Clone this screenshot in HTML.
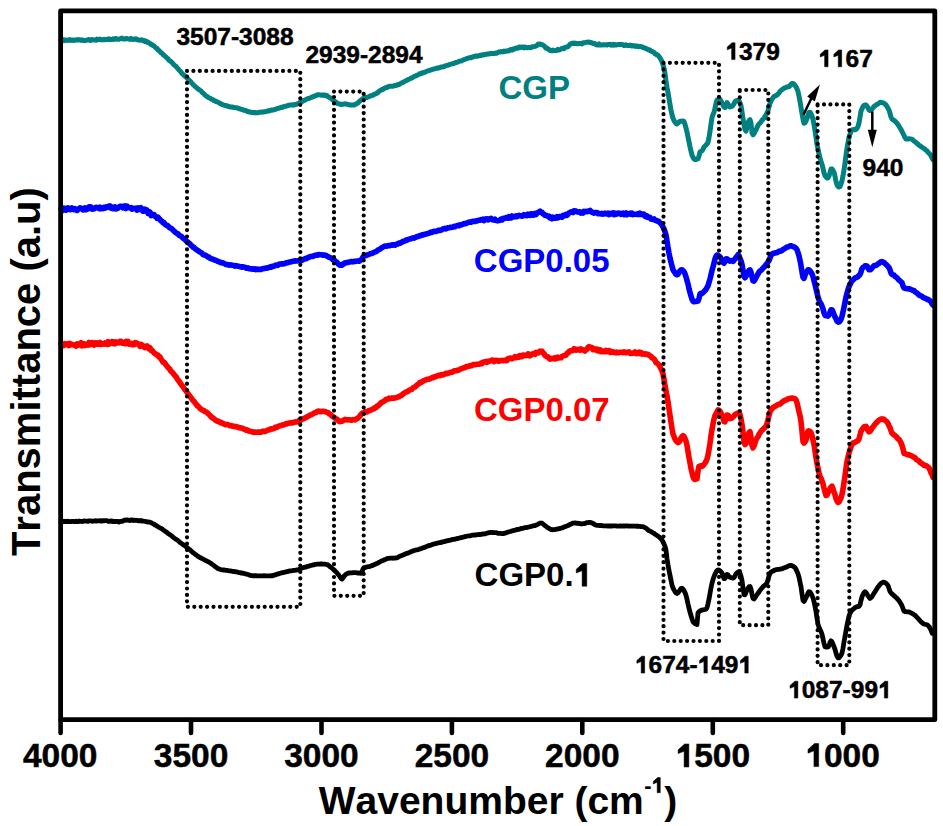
<!DOCTYPE html>
<html><head><meta charset="utf-8"><style>
html,body{margin:0;padding:0;background:#fff;}
body{width:943px;height:826px;overflow:hidden;}
svg{display:block;font-family:"Liberation Sans", sans-serif;font-weight:bold;}
text{stroke:currentColor;stroke-width:0.5;font-kerning:none;}
.nb{stroke-width:0;}
.h1{fill-opacity:0;stroke-opacity:0;}
polyline{fill:none;stroke-linejoin:round;stroke-linecap:round;}
.dot{fill:none;stroke:#000;stroke-width:4.2;stroke-dasharray:0 6.4;stroke-linecap:round;}
</style></head><body>
<svg width="943" height="826" viewBox="0 0 943 826">
<rect width="943" height="826" fill="#fff"/>
<polyline points="61.0,40.1 62.0,40.6 63.0,39.7 64.0,40.6 65.0,39.9 66.0,40.0 67.0,40.5 68.0,40.0 69.0,40.2 70.0,39.5 71.0,40.4 72.0,40.1 73.0,39.9 74.0,40.4 75.0,39.9 76.0,40.0 77.0,39.7 78.0,40.0 79.0,39.7 80.0,39.8 81.0,40.4 82.0,39.8 83.0,40.1 84.0,40.7 85.0,40.6 86.0,40.3 87.0,40.1 88.0,39.7 89.0,39.6 90.0,40.5 91.0,39.9 92.0,39.4 93.0,40.0 94.0,40.1 95.0,39.9 96.0,40.2 97.0,39.1 98.0,39.7 99.0,39.6 100.0,39.1 101.0,39.7 102.0,39.9 103.0,39.6 104.0,39.2 105.0,39.8 106.0,39.4 107.0,39.3 108.0,39.6 109.0,38.8 110.0,39.6 111.0,39.4 112.0,39.4 113.0,38.7 114.0,39.4 115.0,38.6 116.0,38.4 117.0,39.3 118.0,39.3 119.0,39.3 120.0,38.8 121.0,38.5 122.0,38.1 123.0,38.9 124.0,39.0 125.0,39.1 126.0,38.4 127.0,38.4 128.0,38.9 129.0,39.1 130.0,39.4 131.0,38.4 132.0,38.9 133.0,39.5 134.0,39.0 135.0,39.3 136.0,38.7 137.0,39.6 138.0,40.0 139.0,40.0 140.0,40.2 141.0,40.1 142.0,39.8 143.0,40.7 144.0,40.4 145.0,41.5 146.0,41.0 147.0,42.3 148.0,42.1 149.0,42.9 150.0,43.5 151.0,44.6 152.0,44.6 153.0,45.6 154.0,45.9 155.0,47.0 156.0,48.0 157.0,48.5 158.0,50.0 159.0,50.5 160.0,51.7 161.0,52.6 162.0,53.3 163.0,54.5 164.0,55.3 165.0,56.3 166.0,57.0 167.0,58.1 168.0,58.8 169.0,60.3 170.0,60.8 171.0,61.7 172.0,62.5 173.0,63.6 174.0,64.8 175.0,65.7 176.0,66.4 177.0,67.6 178.0,68.7 179.0,69.9 180.0,70.9 181.0,72.1 182.0,73.4 183.0,74.4 184.0,75.2 185.0,76.2 186.0,77.1 187.0,78.0 188.0,79.0 189.0,80.1 190.0,81.1 191.0,82.1 192.0,83.3 193.0,84.6 194.0,85.4 195.0,86.3 196.0,87.2 197.0,87.9 198.0,88.9 199.0,89.6 200.0,90.3 201.0,91.0 202.0,92.2 203.0,93.0 204.0,93.9 205.0,95.0 206.0,96.0 207.0,96.4 208.0,97.3 209.0,97.8 210.0,98.1 211.0,99.1 212.0,99.3 213.0,99.7 214.0,100.6 215.0,100.7 216.0,101.6 217.0,101.7 218.0,102.3 219.0,102.7 220.0,103.5 221.0,103.7 222.0,104.5 223.0,104.7 224.0,105.1 225.0,105.4 226.0,105.5 227.0,105.9 228.0,106.4 229.0,106.2 230.0,106.9 231.0,107.0 232.0,107.0 233.0,107.3 234.0,107.4 235.0,107.6 236.0,107.8 237.0,107.7 238.0,108.2 239.0,108.8 240.0,108.7 241.0,109.3 242.0,109.4 243.0,109.6 244.0,110.4 245.0,110.2 246.0,110.6 247.0,111.4 248.0,111.2 249.0,111.9 250.0,112.0 251.0,112.3 252.0,112.4 253.0,112.4 254.0,112.8 255.0,112.5 256.0,112.8 257.0,112.7 258.0,112.7 259.0,112.3 260.0,112.3 261.0,112.3 262.0,112.0 263.0,112.1 264.0,111.8 265.0,111.8 266.0,111.5 267.0,111.2 268.0,110.8 269.0,110.9 270.0,110.4 271.0,110.0 272.0,110.3 273.0,109.9 274.0,109.8 275.0,109.4 276.0,109.2 277.0,108.6 278.0,108.3 279.0,108.3 280.0,107.9 281.0,107.3 282.0,107.5 283.0,106.7 284.0,106.7 285.0,106.2 286.0,106.3 287.0,105.8 288.0,105.5 289.0,105.2 290.0,105.1 291.0,105.0 292.0,105.0 293.0,104.8 294.0,105.0 295.0,104.8 296.0,104.4 297.0,104.0 298.0,103.7 299.0,103.3 300.0,102.3 301.0,101.9 302.0,101.6 303.0,100.9 304.0,100.6 305.0,99.9 306.0,99.4 307.0,99.0 308.0,98.5 309.0,98.4 310.0,98.0 311.0,97.6 312.0,96.9 313.0,96.8 314.0,96.5 315.0,95.8 316.0,95.6 317.0,95.0 318.0,94.8 319.0,94.8 320.0,95.0 321.0,95.0 322.0,95.3 323.0,95.0 324.0,95.0 325.0,95.5 326.0,95.2 327.0,95.6 328.0,96.8 329.0,97.3 330.0,97.8 331.0,98.3 332.0,99.2 333.0,100.0 334.0,101.1 335.0,101.6 336.0,102.0 337.0,103.2 338.0,103.6 339.0,103.8 340.0,104.2 341.0,104.5 342.0,104.2 343.0,104.3 344.0,104.1 345.0,103.7 346.0,104.1 347.0,104.2 348.0,104.5 349.0,104.7 350.0,105.0 351.0,104.9 352.0,104.9 353.0,104.9 354.0,105.1 355.0,104.5 356.0,104.2 357.0,103.4 358.0,103.0 359.0,101.8 360.0,100.9 361.0,100.0 362.0,99.3 363.0,98.6 364.0,98.0 365.0,97.6 366.0,97.4 367.0,97.4 368.0,96.9 369.0,96.8 370.0,96.0 371.0,95.8 372.0,95.5 373.0,95.1 374.0,94.4 375.0,94.0 376.0,93.8 377.0,93.0 378.0,92.4 379.0,91.4 380.0,90.7 381.0,90.1 382.0,89.5 383.0,89.4 384.0,88.4 385.0,88.1 386.0,87.5 387.0,87.5 388.0,86.7 389.0,86.5 390.0,86.2 391.0,86.2 392.0,86.2 393.0,86.2 394.0,85.7 395.0,85.5 396.0,85.5 397.0,85.1 398.0,84.4 399.0,84.4 400.0,83.9 401.0,83.1 402.0,82.9 403.0,82.2 404.0,81.7 405.0,81.3 406.0,80.8 407.0,80.3 408.0,79.8 409.0,79.1 410.0,78.9 411.0,78.1 412.0,78.0 413.0,77.3 414.0,76.6 415.0,76.1 416.0,75.8 417.0,75.2 418.0,74.9 419.0,74.3 420.0,73.6 421.0,73.7 422.0,72.8 423.0,72.9 424.0,72.5 425.0,72.2 426.0,71.7 427.0,71.1 428.0,70.9 429.0,70.5 430.0,70.3 431.0,69.9 432.0,69.7 433.0,69.1 434.0,68.9 435.0,68.8 436.0,68.4 437.0,68.0 438.0,68.2 439.0,67.8 440.0,67.6 441.0,67.1 442.0,67.1 443.0,66.8 444.0,66.6 445.0,65.9 446.0,65.7 447.0,65.4 448.0,65.2 449.0,64.7 450.0,64.3 451.0,64.2 452.0,63.9 453.0,63.5 454.0,63.5 455.0,62.8 456.0,62.4 457.0,62.4 458.0,61.8 459.0,61.4 460.0,61.0 461.0,61.1 462.0,60.7 463.0,60.1 464.0,59.6 465.0,59.4 466.0,58.8 467.0,58.5 468.0,58.3 469.0,57.9 470.0,57.6 471.0,57.7 472.0,56.9 473.0,57.0 474.0,56.4 475.0,56.2 476.0,56.0 477.0,56.3 478.0,56.0 479.0,55.8 480.0,55.2 481.0,55.5 482.0,55.0 483.0,54.8 484.0,55.0 485.0,54.3 486.0,54.4 487.0,54.0 488.0,54.0 489.0,54.0 490.0,53.4 491.0,53.4 492.0,53.5 493.0,53.4 494.0,53.6 495.0,53.3 496.0,53.0 497.0,53.2 498.0,52.3 499.0,52.0 500.0,52.1 501.0,51.6 502.0,51.9 503.0,51.8 504.0,51.0 505.0,51.5 506.0,51.1 507.0,50.8 508.0,51.1 509.0,50.8 510.0,49.8 511.0,49.5 512.0,50.1 513.0,48.9 514.0,49.2 515.0,48.4 516.0,48.1 517.0,48.0 518.0,48.2 519.0,46.9 520.0,46.9 521.0,47.5 522.0,47.1 523.0,47.0 524.0,47.8 525.0,47.0 526.0,47.5 527.0,47.8 528.0,47.6 529.0,47.5 530.0,47.6 531.0,47.6 532.0,46.7 533.0,46.8 534.0,46.6 535.0,46.3 536.0,46.0 537.0,45.6 538.0,44.2 539.0,44.1 540.0,44.0 541.0,44.6 542.0,44.6 543.0,45.2 544.0,45.8 545.0,46.9 546.0,48.2 547.0,48.0 548.0,49.0 549.0,49.8 550.0,50.4 551.0,50.3 552.0,50.9 553.0,50.1 554.0,50.4 555.0,50.6 556.0,50.6 557.0,50.4 558.0,49.3 559.0,50.0 560.0,49.7 561.0,49.1 562.0,48.4 563.0,48.2 564.0,48.6 565.0,47.4 566.0,47.3 567.0,46.8 568.0,46.8 569.0,45.5 570.0,44.3 571.0,43.8 572.0,43.2 573.0,43.4 574.0,42.9 575.0,43.4 576.0,43.3 577.0,43.8 578.0,43.7 579.0,43.4 580.0,43.6 581.0,43.5 582.0,43.9 583.0,42.8 584.0,42.8 585.0,42.7 586.0,42.3 587.0,42.3 588.0,42.1 589.0,42.1 590.0,42.6 591.0,42.5 592.0,43.1 593.0,43.6 594.0,43.3 595.0,43.8 596.0,44.7 597.0,44.9 598.0,45.0 599.0,43.9 600.0,44.9 601.0,45.0 602.0,45.0 603.0,44.8 604.0,44.8 605.0,44.9 606.0,44.7 607.0,45.0 608.0,44.7 609.0,44.4 610.0,44.3 611.0,45.3 612.0,45.1 613.0,44.4 614.0,45.2 615.0,44.6 616.0,45.1 617.0,44.8 618.0,44.6 619.0,44.6 620.0,44.5 621.0,44.6 622.0,44.6 623.0,44.7 624.0,45.6 625.0,45.3 626.0,44.8 627.0,45.4 628.0,45.5 629.0,45.5 630.0,45.2 631.0,45.5 632.0,46.1 633.0,45.6 634.0,45.8 635.0,46.4 636.0,45.7 637.0,46.4 638.0,46.2 639.0,46.7 640.0,46.3 641.0,46.7 642.0,46.7 643.0,47.5 644.0,47.8 645.0,47.9 646.0,48.7 647.0,48.9 648.0,49.5 649.0,50.1 650.0,49.9 651.0,51.3 652.0,51.2 653.0,52.0 654.0,52.3 655.0,53.8 656.0,53.9 657.0,55.1 658.0,55.3 659.0,56.5 660.0,57.9 661.0,59.6 662.0,61.6 663.0,64.6 664.0,68.1 665.0,73.3 666.0,81.5 667.0,87.5 668.0,92.4 669.0,98.4 670.0,104.5 671.0,110.3 672.0,114.8 673.0,118.2 674.0,120.5 675.0,122.3 676.0,123.4 677.0,123.9 678.0,123.1 679.0,122.0 680.0,121.2 681.0,121.2 682.0,121.1 683.0,121.1 684.0,121.6 685.0,124.3 686.0,128.0 687.0,132.1 688.0,136.9 689.0,141.8 690.0,146.7 691.0,151.1 692.0,155.2 693.0,157.3 694.0,158.9 695.0,159.5 696.0,159.6 697.0,159.0 698.0,158.8 699.0,156.0 700.0,151.9 701.0,151.3 702.0,150.9 703.0,149.4 704.0,147.0 705.0,146.0 706.0,145.1 707.0,144.0 708.0,142.4 709.0,137.6 710.0,131.3 711.0,124.2 712.0,117.5 713.0,114.6 714.0,112.2 715.0,108.5 716.0,103.2 717.0,100.0 718.0,99.8 719.0,99.5 720.0,99.3 721.0,101.0 722.0,102.9 723.0,105.3 724.0,107.1 725.0,107.6 726.0,105.0 727.0,102.6 728.0,103.8 729.0,106.5 730.0,106.9 731.0,106.6 732.0,106.3 733.0,105.2 734.0,103.8 735.0,101.6 736.0,100.8 737.0,100.4 738.0,100.3 739.0,100.8 740.0,102.9 741.0,105.6 742.0,111.8 743.0,118.5 744.0,124.5 745.0,129.7 746.0,131.2 747.0,127.3 748.0,122.4 749.0,120.7 750.0,119.6 751.0,123.2 752.0,133.1 753.0,134.8 754.0,133.6 755.0,131.4 756.0,130.0 757.0,127.6 758.0,125.4 759.0,123.9 760.0,123.1 761.0,121.9 762.0,120.3 763.0,119.2 764.0,118.2 765.0,116.5 766.0,115.0 767.0,113.2 768.0,110.7 769.0,106.7 770.0,103.3 771.0,101.3 772.0,99.0 773.0,97.7 774.0,96.5 775.0,96.0 776.0,95.6 777.0,95.0 778.0,93.9 779.0,92.9 780.0,91.5 781.0,90.3 782.0,89.7 783.0,89.1 784.0,88.2 785.0,87.9 786.0,87.5 787.0,86.9 788.0,86.7 789.0,86.8 790.0,85.8 791.0,84.1 792.0,83.5 793.0,83.5 794.0,84.1 795.0,85.4 796.0,86.7 797.0,88.9 798.0,91.6 799.0,96.2 800.0,101.4 801.0,107.3 802.0,113.6 803.0,119.1 804.0,123.2 805.0,122.9 806.0,120.9 807.0,118.5 808.0,114.9 809.0,112.4 810.0,112.2 811.0,113.7 812.0,116.1 813.0,119.3 814.0,124.6 815.0,130.5 816.0,137.1 817.0,144.3 818.0,149.1 819.0,154.0 820.0,157.8 821.0,161.3 822.0,164.4 823.0,168.2 824.0,172.9 825.0,175.7 826.0,176.9 827.0,177.9 828.0,178.0 829.0,176.0 830.0,172.6 831.0,168.9 832.0,169.0 833.0,170.5 834.0,172.2 835.0,176.1 836.0,181.6 837.0,184.8 838.0,186.4 839.0,187.0 840.0,186.6 841.0,183.9 842.0,180.9 843.0,175.8 844.0,170.0 845.0,163.1 846.0,155.3 847.0,148.4 848.0,142.6 849.0,137.3 850.0,134.1 851.0,131.6 852.0,130.0 853.0,129.7 854.0,129.3 855.0,129.8 856.0,129.6 857.0,128.3 858.0,126.4 859.0,123.1 860.0,117.1 861.0,111.1 862.0,108.7 863.0,106.6 864.0,105.4 865.0,104.9 866.0,105.0 867.0,106.0 868.0,107.7 869.0,110.0 870.0,110.5 871.0,110.2 872.0,108.9 873.0,107.9 874.0,106.4 875.0,105.9 876.0,105.0 877.0,104.3 878.0,104.0 879.0,103.1 880.0,102.5 881.0,102.2 882.0,102.6 883.0,102.9 884.0,103.2 885.0,104.3 886.0,104.9 887.0,106.5 888.0,108.3 889.0,110.1 890.0,113.3 891.0,117.0 892.0,119.0 893.0,119.8 894.0,120.4 895.0,121.1 896.0,122.2 897.0,123.3 898.0,124.6 899.0,126.2 900.0,127.9 901.0,129.5 902.0,131.4 903.0,133.5 904.0,135.5 905.0,137.6 906.0,138.9 907.0,139.0 908.0,139.0 909.0,138.7 910.0,138.9 911.0,139.1 912.0,139.2 913.0,140.0 914.0,141.1 915.0,141.7 916.0,142.5 917.0,143.4 918.0,144.1 919.0,145.2 920.0,145.7 921.0,146.6 922.0,147.2 923.0,147.9 924.0,148.4 925.0,149.3 926.0,150.2 927.0,150.9 928.0,152.2 929.0,153.3 930.0,154.3 931.0,155.7 932.0,158.0 933.0,159.8" stroke="#008080" stroke-width="5" />
<polyline points="61.0,208.7 62.0,208.8 63.0,210.4 64.0,208.1 65.0,209.7 66.0,210.1 67.0,208.3 68.0,207.8 69.0,208.5 70.0,209.7 71.0,209.4 72.0,208.0 73.0,208.9 74.0,209.6 75.0,208.7 76.0,209.4 77.0,210.4 78.0,209.4 79.0,208.5 80.0,207.8 81.0,208.2 82.0,208.7 83.0,209.9 84.0,209.4 85.0,207.9 86.0,209.7 87.0,208.2 88.0,208.9 89.0,206.9 90.0,206.8 91.0,207.0 92.0,209.1 93.0,208.4 94.0,208.9 95.0,208.1 96.0,207.3 97.0,207.6 98.0,207.8 99.0,208.6 100.0,207.2 101.0,208.7 102.0,207.8 103.0,208.5 104.0,207.4 105.0,208.0 106.0,206.9 107.0,207.5 108.0,206.5 109.0,206.1 110.0,205.9 111.0,208.0 112.0,207.3 113.0,208.7 114.0,208.5 115.0,207.0 116.0,208.9 117.0,207.7 118.0,208.3 119.0,207.1 120.0,206.4 121.0,206.3 122.0,206.4 123.0,207.7 124.0,206.2 125.0,205.9 126.0,208.5 127.0,206.1 128.0,207.3 129.0,207.5 130.0,208.0 131.0,207.7 132.0,209.2 133.0,208.7 134.0,208.3 135.0,208.5 136.0,208.3 137.0,210.0 138.0,207.8 139.0,209.4 140.0,209.2 141.0,207.8 142.0,208.9 143.0,211.3 144.0,211.2 145.0,209.2 146.0,210.6 147.0,210.2 148.0,213.4 149.0,211.7 150.0,212.1 151.0,215.6 152.0,214.4 153.0,214.7 154.0,214.5 155.0,216.3 156.0,216.9 157.0,218.2 158.0,217.2 159.0,218.4 160.0,219.4 161.0,220.9 162.0,221.2 163.0,222.9 164.0,222.6 165.0,224.3 166.0,225.1 167.0,225.2 168.0,226.0 169.0,227.1 170.0,228.0 171.0,228.2 172.0,229.1 173.0,230.1 174.0,231.0 175.0,232.0 176.0,232.8 177.0,233.5 178.0,233.7 179.0,235.3 180.0,235.8 181.0,236.1 182.0,237.1 183.0,238.2 184.0,238.8 185.0,239.6 186.0,240.7 187.0,241.6 188.0,242.2 189.0,243.3 190.0,243.9 191.0,245.3 192.0,245.9 193.0,247.1 194.0,247.2 195.0,248.7 196.0,249.2 197.0,250.1 198.0,250.5 199.0,251.6 200.0,252.1 201.0,252.6 202.0,253.2 203.0,254.6 204.0,255.0 205.0,255.1 206.0,255.6 207.0,256.3 208.0,257.1 209.0,257.1 210.0,258.3 211.0,258.8 212.0,258.7 213.0,259.4 214.0,259.6 215.0,260.3 216.0,260.2 217.0,260.9 218.0,261.4 219.0,261.8 220.0,262.2 221.0,262.7 222.0,262.6 223.0,262.9 224.0,263.5 225.0,263.9 226.0,264.5 227.0,264.5 228.0,264.8 229.0,265.2 230.0,264.8 231.0,265.0 232.0,265.3 233.0,265.3 234.0,265.7 235.0,266.1 236.0,265.6 237.0,266.0 238.0,266.3 239.0,266.3 240.0,266.8 241.0,266.9 242.0,267.2 243.0,266.8 244.0,267.1 245.0,267.2 246.0,268.0 247.0,268.3 248.0,267.8 249.0,268.6 250.0,268.7 251.0,269.0 252.0,268.7 253.0,269.2 254.0,268.9 255.0,268.9 256.0,269.6 257.0,269.0 258.0,269.5 259.0,269.2 260.0,269.2 261.0,269.4 262.0,268.7 263.0,268.8 264.0,268.5 265.0,268.2 266.0,268.2 267.0,267.7 268.0,267.9 269.0,267.5 270.0,266.9 271.0,267.2 272.0,266.4 273.0,266.4 274.0,266.2 275.0,265.5 276.0,265.0 277.0,265.4 278.0,265.2 279.0,264.3 280.0,264.0 281.0,264.0 282.0,263.8 283.0,263.9 284.0,263.7 285.0,263.5 286.0,262.8 287.0,262.9 288.0,262.6 289.0,262.2 290.0,261.9 291.0,261.7 292.0,261.6 293.0,261.2 294.0,261.1 295.0,260.8 296.0,261.1 297.0,260.9 298.0,260.6 299.0,260.8 300.0,260.5 301.0,260.5 302.0,260.4 303.0,259.6 304.0,259.4 305.0,258.6 306.0,258.8 307.0,258.2 308.0,257.5 309.0,257.2 310.0,256.7 311.0,256.4 312.0,256.2 313.0,256.4 314.0,255.8 315.0,255.4 316.0,255.3 317.0,254.9 318.0,255.1 319.0,254.5 320.0,254.7 321.0,254.8 322.0,254.8 323.0,255.3 324.0,255.0 325.0,255.3 326.0,255.3 327.0,256.2 328.0,256.4 329.0,257.3 330.0,257.6 331.0,258.0 332.0,258.8 333.0,259.8 334.0,260.5 335.0,260.8 336.0,261.9 337.0,262.2 338.0,263.7 339.0,264.5 340.0,265.3 341.0,265.2 342.0,265.3 343.0,264.0 344.0,263.8 345.0,262.7 346.0,262.7 347.0,262.5 348.0,262.5 349.0,262.0 350.0,262.0 351.0,261.5 352.0,261.6 353.0,261.9 354.0,261.3 355.0,261.5 356.0,261.3 357.0,261.1 358.0,260.9 359.0,261.2 360.0,260.7 361.0,260.0 362.0,258.7 363.0,257.1 364.0,256.1 365.0,255.8 366.0,255.5 367.0,254.9 368.0,254.7 369.0,254.4 370.0,253.8 371.0,253.6 372.0,253.4 373.0,252.8 374.0,252.4 375.0,251.8 376.0,251.7 377.0,251.0 378.0,249.9 379.0,249.7 380.0,249.1 381.0,248.4 382.0,247.5 383.0,247.1 384.0,246.6 385.0,246.1 386.0,246.1 387.0,246.1 388.0,245.8 389.0,245.5 390.0,245.6 391.0,245.3 392.0,244.9 393.0,245.2 394.0,244.8 395.0,245.1 396.0,244.4 397.0,243.9 398.0,244.1 399.0,243.1 400.0,243.3 401.0,242.5 402.0,242.3 403.0,241.3 404.0,241.3 405.0,241.0 406.0,240.1 407.0,240.1 408.0,239.4 409.0,239.2 410.0,238.9 411.0,238.8 412.0,238.2 413.0,237.9 414.0,238.1 415.0,237.7 416.0,237.1 417.0,236.6 418.0,236.6 419.0,236.0 420.0,235.5 421.0,235.7 422.0,234.8 423.0,235.0 424.0,234.5 425.0,234.2 426.0,234.0 427.0,233.7 428.0,233.5 429.0,233.3 430.0,232.5 431.0,232.1 432.0,232.4 433.0,231.6 434.0,231.3 435.0,231.5 436.0,231.4 437.0,231.1 438.0,230.5 439.0,230.2 440.0,230.4 441.0,230.0 442.0,229.7 443.0,228.9 444.0,228.8 445.0,228.4 446.0,228.9 447.0,228.1 448.0,227.8 449.0,227.9 450.0,227.3 451.0,227.4 452.0,227.4 453.0,227.1 454.0,226.4 455.0,226.7 456.0,226.0 457.0,225.8 458.0,225.4 459.0,225.7 460.0,224.9 461.0,224.9 462.0,224.5 463.0,224.3 464.0,223.5 465.0,223.6 466.0,223.6 467.0,223.0 468.0,222.5 469.0,222.1 470.0,222.1 471.0,222.2 472.0,221.4 473.0,221.2 474.0,221.5 475.0,221.5 476.0,220.9 477.0,220.9 478.0,220.4 479.0,220.3 480.0,220.3 481.0,219.6 482.0,219.9 483.0,219.2 484.0,220.5 485.0,219.9 486.0,218.8 487.0,218.8 488.0,219.9 489.0,219.0 490.0,218.8 491.0,218.4 492.0,219.6 493.0,219.6 494.0,220.2 495.0,219.2 496.0,220.4 497.0,220.7 498.0,220.8 499.0,220.6 500.0,220.0 501.0,219.1 502.0,219.9 503.0,218.5 504.0,218.2 505.0,218.4 506.0,217.5 507.0,217.8 508.0,218.2 509.0,216.7 510.0,217.7 511.0,217.9 512.0,216.0 513.0,216.5 514.0,216.9 515.0,216.8 516.0,215.9 517.0,216.7 518.0,215.8 519.0,215.4 520.0,215.8 521.0,215.9 522.0,216.2 523.0,215.8 524.0,214.7 525.0,215.5 526.0,215.0 527.0,215.6 528.0,214.3 529.0,215.3 530.0,215.4 531.0,213.9 532.0,213.8 533.0,215.2 534.0,215.0 535.0,213.5 536.0,214.5 537.0,213.1 538.0,212.6 539.0,211.9 540.0,211.2 541.0,212.3 542.0,212.4 543.0,213.8 544.0,214.2 545.0,215.4 546.0,215.2 547.0,215.8 548.0,216.5 549.0,216.1 550.0,217.9 551.0,217.1 552.0,218.7 553.0,217.1 554.0,218.2 555.0,218.2 556.0,217.7 557.0,216.7 558.0,217.9 559.0,216.8 560.0,216.6 561.0,217.1 562.0,217.3 563.0,215.3 564.0,215.6 565.0,215.6 566.0,214.5 567.0,215.3 568.0,214.3 569.0,212.9 570.0,212.5 571.0,211.9 572.0,212.0 573.0,212.5 574.0,210.8 575.0,210.9 576.0,211.1 577.0,211.9 578.0,211.9 579.0,212.1 580.0,211.8 581.0,213.1 582.0,212.6 583.0,213.1 584.0,211.4 585.0,211.7 586.0,211.2 587.0,211.7 588.0,211.2 589.0,210.9 590.0,210.3 591.0,211.5 592.0,212.3 593.0,212.4 594.0,213.1 595.0,212.8 596.0,212.5 597.0,212.5 598.0,213.7 599.0,213.8 600.0,213.5 601.0,213.9 602.0,213.4 603.0,214.1 604.0,213.9 605.0,213.2 606.0,213.8 607.0,214.0 608.0,213.2 609.0,214.6 610.0,214.3 611.0,213.2 612.0,213.3 613.0,212.9 614.0,214.6 615.0,213.2 616.0,214.4 617.0,213.8 618.0,213.0 619.0,213.3 620.0,213.4 621.0,214.3 622.0,213.6 623.0,213.2 624.0,214.6 625.0,213.8 626.0,213.0 627.0,214.7 628.0,214.1 629.0,213.7 630.0,213.2 631.0,214.1 632.0,213.1 633.0,214.6 634.0,214.3 635.0,214.2 636.0,214.3 637.0,214.5 638.0,213.7 639.0,214.4 640.0,213.1 641.0,214.3 642.0,214.6 643.0,214.0 644.0,214.3 645.0,216.3 646.0,216.8 647.0,215.9 648.0,217.3 649.0,217.0 650.0,217.4 651.0,219.1 652.0,219.0 653.0,219.5 654.0,219.0 655.0,220.3 656.0,220.6 657.0,220.5 658.0,221.4 659.0,221.6 660.0,222.9 661.0,223.6 662.0,225.1 663.0,227.0 664.0,228.9 665.0,231.7 666.0,235.0 667.0,241.2 668.0,247.5 669.0,253.2 670.0,258.0 671.0,262.3 672.0,265.9 673.0,269.8 674.0,271.4 675.0,272.7 676.0,274.4 677.0,274.7 678.0,274.4 679.0,272.3 680.0,270.8 681.0,269.9 682.0,269.7 683.0,270.8 684.0,271.7 685.0,273.8 686.0,276.8 687.0,280.6 688.0,284.0 689.0,288.8 690.0,292.4 691.0,295.9 692.0,299.2 693.0,301.2 694.0,301.8 695.0,301.5 696.0,301.5 697.0,301.3 698.0,301.1 699.0,298.4 700.0,294.0 701.0,293.2 702.0,293.4 703.0,292.7 704.0,291.6 705.0,290.6 706.0,289.4 707.0,287.4 708.0,285.8 709.0,282.4 710.0,278.9 711.0,275.0 712.0,270.4 713.0,266.9 714.0,263.3 715.0,259.0 716.0,256.3 717.0,255.1 718.0,255.3 719.0,256.0 720.0,256.9 721.0,258.4 722.0,260.1 723.0,262.5 724.0,263.2 725.0,260.8 726.0,258.8 727.0,258.8 728.0,259.7 729.0,260.8 730.0,261.1 731.0,260.8 732.0,260.6 733.0,261.4 734.0,260.2 735.0,258.9 736.0,257.5 737.0,256.2 738.0,254.8 739.0,255.8 740.0,258.5 741.0,260.8 742.0,264.5 743.0,270.5 744.0,276.1 745.0,277.7 746.0,276.4 747.0,274.0 748.0,272.1 749.0,270.3 750.0,269.9 751.0,272.4 752.0,276.8 753.0,280.7 754.0,281.1 755.0,279.5 756.0,277.6 757.0,275.7 758.0,274.0 759.0,272.1 760.0,271.0 761.0,270.4 762.0,269.3 763.0,268.1 764.0,267.0 765.0,266.4 766.0,264.5 767.0,263.6 768.0,261.9 769.0,260.5 770.0,257.9 771.0,255.4 772.0,254.0 773.0,253.5 774.0,253.2 775.0,252.9 776.0,252.7 777.0,252.6 778.0,252.1 779.0,251.3 780.0,251.1 781.0,251.0 782.0,250.5 783.0,249.5 784.0,248.9 785.0,248.4 786.0,247.6 787.0,247.1 788.0,247.0 789.0,246.5 790.0,245.8 791.0,245.8 792.0,246.1 793.0,246.5 794.0,246.9 795.0,247.6 796.0,248.3 797.0,249.6 798.0,252.6 799.0,255.9 800.0,260.3 801.0,265.6 802.0,271.9 803.0,277.2 804.0,278.4 805.0,275.3 806.0,272.8 807.0,271.3 808.0,269.9 809.0,269.9 810.0,270.8 811.0,272.3 812.0,273.9 813.0,276.6 814.0,280.5 815.0,284.3 816.0,288.6 817.0,292.9 818.0,297.1 819.0,300.0 820.0,302.5 821.0,303.7 822.0,306.3 823.0,308.9 824.0,312.8 825.0,315.3 826.0,315.7 827.0,315.7 828.0,316.1 829.0,314.8 830.0,312.2 831.0,309.9 832.0,309.8 833.0,311.8 834.0,314.5 835.0,317.0 836.0,318.7 837.0,321.1 838.0,322.1 839.0,322.0 840.0,320.9 841.0,319.3 842.0,316.4 843.0,312.2 844.0,307.2 845.0,301.9 846.0,297.1 847.0,293.2 848.0,289.7 849.0,286.7 850.0,284.6 851.0,282.5 852.0,280.7 853.0,280.1 854.0,279.1 855.0,278.1 856.0,277.6 857.0,277.3 858.0,276.5 859.0,275.5 860.0,274.5 861.0,271.9 862.0,268.7 863.0,267.4 864.0,266.9 865.0,265.8 866.0,265.9 867.0,266.0 868.0,267.7 869.0,269.8 870.0,269.8 871.0,269.4 872.0,268.0 873.0,266.8 874.0,265.8 875.0,265.5 876.0,265.4 877.0,264.8 878.0,263.8 879.0,263.4 880.0,262.3 881.0,261.7 882.0,261.6 883.0,262.2 884.0,262.5 885.0,263.5 886.0,264.4 887.0,265.3 888.0,266.5 889.0,267.6 890.0,269.9 891.0,273.0 892.0,274.4 893.0,274.8 894.0,275.2 895.0,276.5 896.0,277.0 897.0,277.7 898.0,278.9 899.0,280.2 900.0,280.8 901.0,281.9 902.0,282.7 903.0,286.0 904.0,287.9 905.0,288.3 906.0,288.5 907.0,288.6 908.0,288.9 909.0,288.7 910.0,289.1 911.0,289.5 912.0,290.0 913.0,290.5 914.0,290.6 915.0,291.8 916.0,292.4 917.0,292.9 918.0,293.9 919.0,295.0 920.0,295.6 921.0,295.9 922.0,296.3 923.0,297.5 924.0,297.8 925.0,298.3 926.0,298.5 927.0,299.4 928.0,299.3 929.0,300.2 930.0,300.7 931.0,301.8 932.0,303.8 933.0,305.1" stroke="#0000ff" stroke-width="5.6" />
<polyline points="61.0,343.7 62.0,344.1 63.0,345.9 64.0,345.2 65.0,343.6 66.0,344.7 67.0,344.8 68.0,343.7 69.0,345.6 70.0,343.5 71.0,344.4 72.0,344.8 73.0,344.5 74.0,344.9 75.0,345.4 76.0,346.0 77.0,343.9 78.0,345.0 79.0,345.1 80.0,343.8 81.0,342.8 82.0,345.9 83.0,343.7 84.0,343.7 85.0,345.5 86.0,344.5 87.0,344.0 88.0,345.0 89.0,342.5 90.0,344.6 91.0,343.5 92.0,342.6 93.0,344.3 94.0,345.1 95.0,342.8 96.0,344.1 97.0,342.9 98.0,344.3 99.0,344.2 100.0,342.5 101.0,344.4 102.0,343.8 103.0,343.9 104.0,344.2 105.0,342.9 106.0,343.9 107.0,344.3 108.0,341.7 109.0,344.1 110.0,342.5 111.0,342.8 112.0,341.6 113.0,343.4 114.0,342.0 115.0,343.8 116.0,341.8 117.0,342.7 118.0,342.2 119.0,342.8 120.0,341.4 121.0,341.3 122.0,343.1 123.0,343.1 124.0,342.5 125.0,343.6 126.0,341.4 127.0,343.5 128.0,341.4 129.0,344.1 130.0,343.2 131.0,343.3 132.0,344.7 133.0,344.4 134.0,344.7 135.0,342.6 136.0,343.9 137.0,343.2 138.0,343.9 139.0,344.2 140.0,346.4 141.0,344.3 142.0,345.0 143.0,345.8 144.0,347.1 145.0,347.7 146.0,347.2 147.0,346.0 148.0,347.6 149.0,348.9 150.0,347.6 151.0,350.4 152.0,350.2 153.0,351.7 154.0,352.8 155.0,353.7 156.0,354.1 157.0,355.2 158.0,355.0 159.0,357.0 160.0,356.9 161.0,359.1 162.0,360.4 163.0,362.3 164.0,362.2 165.0,363.3 166.0,364.9 167.0,365.9 168.0,367.5 169.0,368.4 170.0,369.6 171.0,371.3 172.0,372.0 173.0,373.2 174.0,374.4 175.0,375.7 176.0,376.7 177.0,378.4 178.0,380.0 179.0,381.1 180.0,382.6 181.0,384.2 182.0,385.5 183.0,386.8 184.0,388.3 185.0,389.8 186.0,390.7 187.0,392.3 188.0,393.6 189.0,394.9 190.0,396.5 191.0,397.6 192.0,399.2 193.0,400.4 194.0,401.3 195.0,402.8 196.0,403.9 197.0,405.4 198.0,406.1 199.0,407.2 200.0,408.4 201.0,409.1 202.0,409.9 203.0,410.2 204.0,410.6 205.0,411.8 206.0,411.8 207.0,412.5 208.0,413.5 209.0,414.5 210.0,415.4 211.0,416.6 212.0,417.8 213.0,417.9 214.0,418.8 215.0,419.7 216.0,420.5 217.0,421.1 218.0,421.0 219.0,421.8 220.0,422.5 221.0,422.3 222.0,423.2 223.0,423.3 224.0,424.1 225.0,424.6 226.0,424.6 227.0,424.4 228.0,424.7 229.0,425.2 230.0,425.8 231.0,425.5 232.0,426.1 233.0,426.1 234.0,426.2 235.0,426.7 236.0,426.6 237.0,426.8 238.0,427.4 239.0,427.4 240.0,427.9 241.0,428.0 242.0,428.1 243.0,428.6 244.0,429.3 245.0,429.4 246.0,430.1 247.0,429.7 248.0,430.4 249.0,431.1 250.0,431.3 251.0,431.5 252.0,431.7 253.0,432.1 254.0,432.1 255.0,432.1 256.0,432.2 257.0,432.3 258.0,432.0 259.0,432.3 260.0,432.1 261.0,432.1 262.0,431.7 263.0,431.1 264.0,431.4 265.0,431.4 266.0,430.9 267.0,430.6 268.0,430.0 269.0,429.6 270.0,429.6 271.0,428.7 272.0,429.0 273.0,428.7 274.0,428.4 275.0,427.4 276.0,427.0 277.0,427.3 278.0,426.6 279.0,426.1 280.0,425.8 281.0,425.7 282.0,425.0 283.0,424.9 284.0,424.7 285.0,424.4 286.0,423.5 287.0,423.9 288.0,423.3 289.0,423.1 290.0,423.0 291.0,422.6 292.0,423.0 293.0,422.3 294.0,422.4 295.0,421.9 296.0,422.0 297.0,421.9 298.0,421.5 299.0,420.5 300.0,420.4 301.0,420.2 302.0,419.1 303.0,418.8 304.0,418.5 305.0,418.0 306.0,417.3 307.0,416.9 308.0,416.4 309.0,415.6 310.0,415.3 311.0,414.8 312.0,414.4 313.0,413.8 314.0,413.1 315.0,412.7 316.0,412.6 317.0,411.6 318.0,411.2 319.0,411.0 320.0,411.7 321.0,411.8 322.0,411.3 323.0,411.3 324.0,411.3 325.0,411.7 326.0,411.8 327.0,412.4 328.0,412.5 329.0,413.8 330.0,414.1 331.0,415.1 332.0,415.8 333.0,416.7 334.0,417.2 335.0,418.1 336.0,418.7 337.0,419.2 338.0,420.3 339.0,421.3 340.0,421.7 341.0,421.1 342.0,421.3 343.0,420.6 344.0,419.9 345.0,419.4 346.0,419.8 347.0,420.0 348.0,419.7 349.0,419.7 350.0,419.8 351.0,420.2 352.0,420.2 353.0,419.6 354.0,419.7 355.0,419.9 356.0,419.1 357.0,418.7 358.0,418.1 359.0,417.0 360.0,415.8 361.0,414.5 362.0,413.3 363.0,412.7 364.0,412.9 365.0,411.8 366.0,412.0 367.0,411.9 368.0,411.0 369.0,410.5 370.0,410.4 371.0,409.9 372.0,409.5 373.0,408.9 374.0,408.8 375.0,407.5 376.0,407.5 377.0,406.1 378.0,406.0 379.0,404.7 380.0,404.1 381.0,402.7 382.0,402.2 383.0,401.8 384.0,401.1 385.0,400.6 386.0,399.5 387.0,399.2 388.0,399.0 389.0,398.2 390.0,398.7 391.0,398.3 392.0,398.1 393.0,398.0 394.0,398.3 395.0,397.7 396.0,397.7 397.0,397.4 398.0,396.8 399.0,396.7 400.0,395.9 401.0,395.6 402.0,394.9 403.0,394.0 404.0,393.4 405.0,392.6 406.0,392.1 407.0,391.8 408.0,391.3 409.0,390.4 410.0,389.8 411.0,389.6 412.0,389.2 413.0,387.9 414.0,387.2 415.0,387.0 416.0,386.0 417.0,385.0 418.0,384.3 419.0,383.6 420.0,382.4 421.0,382.5 422.0,382.0 423.0,381.1 424.0,380.7 425.0,380.1 426.0,380.0 427.0,379.3 428.0,379.2 429.0,379.2 430.0,378.5 431.0,378.4 432.0,377.6 433.0,377.8 434.0,376.9 435.0,376.6 436.0,376.7 437.0,376.1 438.0,375.6 439.0,375.3 440.0,375.6 441.0,374.7 442.0,374.5 443.0,374.9 444.0,374.5 445.0,373.8 446.0,373.4 447.0,373.7 448.0,373.3 449.0,372.9 450.0,372.5 451.0,372.2 452.0,372.3 453.0,371.6 454.0,371.0 455.0,370.7 456.0,370.8 457.0,370.6 458.0,370.2 459.0,369.9 460.0,369.2 461.0,368.9 462.0,368.4 463.0,368.1 464.0,367.7 465.0,367.7 466.0,366.8 467.0,366.5 468.0,366.5 469.0,366.0 470.0,365.6 471.0,365.9 472.0,365.6 473.0,364.8 474.0,364.5 475.0,364.6 476.0,364.5 477.0,364.2 478.0,364.2 479.0,364.1 480.0,364.0 481.0,363.1 482.0,363.6 483.0,362.3 484.0,362.1 485.0,361.8 486.0,361.5 487.0,362.4 488.0,361.3 489.0,361.2 490.0,361.0 491.0,360.5 492.0,360.1 493.0,360.3 494.0,361.5 495.0,360.5 496.0,360.7 497.0,360.3 498.0,361.2 499.0,361.1 500.0,360.5 501.0,360.6 502.0,360.4 503.0,360.6 504.0,360.5 505.0,360.3 506.0,360.7 507.0,360.5 508.0,358.6 509.0,358.9 510.0,358.0 511.0,358.3 512.0,358.8 513.0,358.2 514.0,357.8 515.0,356.6 516.0,357.7 517.0,357.2 518.0,356.4 519.0,357.1 520.0,355.6 521.0,355.7 522.0,356.6 523.0,355.0 524.0,355.0 525.0,355.5 526.0,355.6 527.0,355.2 528.0,353.9 529.0,354.0 530.0,355.8 531.0,355.0 532.0,354.4 533.0,353.6 534.0,353.6 535.0,354.3 536.0,352.4 537.0,352.8 538.0,353.0 539.0,352.2 540.0,351.1 541.0,351.7 542.0,351.1 543.0,352.8 544.0,353.5 545.0,355.5 546.0,356.2 547.0,356.8 548.0,356.8 549.0,358.2 550.0,359.1 551.0,358.4 552.0,358.8 553.0,358.2 554.0,358.0 555.0,358.9 556.0,357.6 557.0,358.3 558.0,357.2 559.0,357.9 560.0,357.8 561.0,357.8 562.0,356.4 563.0,356.0 564.0,355.5 565.0,355.5 566.0,355.1 567.0,353.4 568.0,353.0 569.0,351.6 570.0,350.9 571.0,350.9 572.0,350.6 573.0,350.4 574.0,348.7 575.0,349.3 576.0,350.2 577.0,349.5 578.0,349.2 579.0,350.0 580.0,350.2 581.0,348.9 582.0,349.9 583.0,349.8 584.0,350.3 585.0,351.0 586.0,349.8 587.0,349.3 588.0,347.3 589.0,346.7 590.0,347.7 591.0,347.4 592.0,347.5 593.0,349.6 594.0,348.6 595.0,349.0 596.0,350.0 597.0,349.3 598.0,350.9 599.0,349.8 600.0,349.8 601.0,351.6 602.0,350.9 603.0,351.8 604.0,351.8 605.0,351.6 606.0,350.4 607.0,351.6 608.0,350.7 609.0,350.6 610.0,352.2 611.0,351.3 612.0,352.2 613.0,351.8 614.0,352.4 615.0,352.2 616.0,352.8 617.0,352.0 618.0,352.7 619.0,352.7 620.0,352.3 621.0,352.2 622.0,352.2 623.0,352.6 624.0,351.8 625.0,352.3 626.0,352.7 627.0,352.2 628.0,352.1 629.0,351.9 630.0,353.2 631.0,353.4 632.0,353.3 633.0,353.1 634.0,353.0 635.0,352.0 636.0,353.5 637.0,352.9 638.0,353.3 639.0,352.3 640.0,353.5 641.0,352.5 642.0,354.1 643.0,353.8 644.0,353.7 645.0,354.2 646.0,353.8 647.0,354.6 648.0,354.3 649.0,355.1 650.0,355.8 651.0,356.4 652.0,357.8 653.0,358.1 654.0,359.0 655.0,360.4 656.0,362.6 657.0,363.2 658.0,363.9 659.0,364.9 660.0,366.7 661.0,368.8 662.0,370.9 663.0,373.9 664.0,379.5 665.0,385.6 666.0,390.7 667.0,396.1 668.0,401.7 669.0,408.7 670.0,415.3 671.0,422.2 672.0,428.5 673.0,434.0 674.0,436.5 675.0,439.1 676.0,440.7 677.0,441.8 678.0,442.6 679.0,442.0 680.0,440.4 681.0,438.0 682.0,436.5 683.0,435.7 684.0,436.4 685.0,438.6 686.0,441.2 687.0,445.3 688.0,451.7 689.0,457.6 690.0,462.8 691.0,468.6 692.0,472.7 693.0,476.5 694.0,479.0 695.0,479.5 696.0,479.0 697.0,478.8 698.0,470.9 699.0,466.2 700.0,466.1 701.0,465.8 702.0,466.3 703.0,465.5 704.0,464.4 705.0,463.1 706.0,461.3 707.0,459.1 708.0,455.2 709.0,449.4 710.0,443.4 711.0,435.7 712.0,429.4 713.0,423.9 714.0,419.2 715.0,415.6 716.0,413.7 717.0,411.9 718.0,409.9 719.0,410.2 720.0,411.2 721.0,413.0 722.0,415.4 723.0,418.0 724.0,421.5 725.0,421.8 726.0,418.4 727.0,415.0 728.0,415.2 729.0,416.3 730.0,418.6 731.0,418.3 732.0,417.9 733.0,416.8 734.0,416.1 735.0,414.5 736.0,414.0 737.0,413.5 738.0,413.0 739.0,412.6 740.0,414.3 741.0,418.9 742.0,424.8 743.0,432.2 744.0,440.8 745.0,444.6 746.0,443.6 747.0,440.3 748.0,436.5 749.0,432.5 750.0,431.6 751.0,437.6 752.0,445.3 753.0,447.9 754.0,445.8 755.0,443.1 756.0,439.8 757.0,438.0 758.0,436.6 759.0,434.3 760.0,432.8 761.0,431.3 762.0,430.3 763.0,429.4 764.0,428.3 765.0,427.5 766.0,426.0 767.0,423.6 768.0,419.7 769.0,415.4 770.0,411.8 771.0,410.0 772.0,409.0 773.0,407.5 774.0,406.8 775.0,406.4 776.0,405.8 777.0,405.1 778.0,404.7 779.0,404.1 780.0,404.0 781.0,403.4 782.0,402.2 783.0,401.6 784.0,400.8 785.0,400.5 786.0,399.8 787.0,399.8 788.0,398.8 789.0,398.7 790.0,398.3 791.0,398.3 792.0,398.0 793.0,398.2 794.0,398.4 795.0,398.7 796.0,400.0 797.0,402.7 798.0,407.1 799.0,411.6 800.0,415.6 801.0,421.6 802.0,431.3 803.0,441.6 804.0,443.0 805.0,441.9 806.0,440.0 807.0,435.7 808.0,431.0 809.0,430.9 810.0,431.4 811.0,432.6 812.0,435.7 813.0,440.0 814.0,444.5 815.0,450.9 816.0,457.5 817.0,463.3 818.0,468.3 819.0,472.9 820.0,476.5 821.0,478.3 822.0,481.0 823.0,483.7 824.0,488.2 825.0,492.1 826.0,495.5 827.0,495.1 828.0,492.6 829.0,491.0 830.0,488.4 831.0,487.1 832.0,486.2 833.0,488.7 834.0,492.2 835.0,494.6 836.0,498.6 837.0,500.9 838.0,502.3 839.0,502.0 840.0,500.1 841.0,497.8 842.0,494.4 843.0,489.4 844.0,482.6 845.0,476.0 846.0,468.3 847.0,461.7 848.0,457.1 849.0,453.0 850.0,449.9 851.0,446.7 852.0,444.3 853.0,443.0 854.0,442.8 855.0,442.4 856.0,441.6 857.0,441.4 858.0,440.6 859.0,438.9 860.0,435.1 861.0,431.3 862.0,429.5 863.0,428.2 864.0,426.8 865.0,426.6 866.0,426.4 867.0,428.2 868.0,430.8 869.0,431.8 870.0,431.3 871.0,430.0 872.0,428.0 873.0,427.0 874.0,425.5 875.0,424.2 876.0,423.0 877.0,422.4 878.0,421.0 879.0,420.2 880.0,419.5 881.0,419.3 882.0,418.8 883.0,419.5 884.0,419.4 885.0,420.3 886.0,421.0 887.0,421.9 888.0,423.5 889.0,425.7 890.0,427.7 891.0,430.7 892.0,433.2 893.0,433.9 894.0,435.0 895.0,435.5 896.0,436.4 897.0,437.5 898.0,438.9 899.0,439.3 900.0,441.0 901.0,442.9 902.0,445.3 903.0,448.9 904.0,453.4 905.0,453.5 906.0,454.1 907.0,454.6 908.0,454.6 909.0,454.8 910.0,455.2 911.0,455.7 912.0,456.1 913.0,456.7 914.0,457.2 915.0,457.7 916.0,459.1 917.0,460.0 918.0,460.4 919.0,460.9 920.0,462.4 921.0,462.9 922.0,463.7 923.0,464.2 924.0,465.3 925.0,465.5 926.0,465.6 927.0,466.3 928.0,467.1 929.0,468.1 930.0,470.0 931.0,472.8 932.0,474.6 933.0,477.3" stroke="#ff0000" stroke-width="5.6" />
<polyline points="61.0,522.0 62.0,521.6 63.0,521.9 64.0,521.2 65.0,521.6 66.0,521.4 67.0,521.7 68.0,521.2 69.0,521.7 70.0,521.5 71.0,521.7 72.0,521.4 73.0,521.3 74.0,521.6 75.0,521.7 76.0,521.2 77.0,521.7 78.0,521.6 79.0,521.0 80.0,521.3 81.0,521.4 82.0,521.5 83.0,521.3 84.0,520.8 85.0,521.1 86.0,521.1 87.0,521.1 88.0,521.4 89.0,520.9 90.0,520.8 91.0,521.0 92.0,521.1 93.0,521.3 94.0,521.0 95.0,520.7 96.0,521.2 97.0,520.8 98.0,521.0 99.0,520.8 100.0,520.6 101.0,521.0 102.0,521.0 103.0,520.6 104.0,520.8 105.0,520.7 106.0,520.6 107.0,520.7 108.0,521.4 109.0,521.4 110.0,521.0 111.0,521.4 112.0,520.9 113.0,521.7 114.0,521.4 115.0,521.7 116.0,521.3 117.0,521.5 118.0,521.5 119.0,522.0 120.0,521.5 121.0,521.4 122.0,521.4 123.0,521.0 124.0,520.3 125.0,520.0 126.0,520.3 127.0,519.8 128.0,520.0 129.0,520.4 130.0,520.5 131.0,520.0 132.0,519.9 133.0,520.5 134.0,520.4 135.0,520.2 136.0,520.5 137.0,520.2 138.0,520.8 139.0,520.7 140.0,520.9 141.0,520.5 142.0,521.1 143.0,521.0 144.0,521.2 145.0,521.3 146.0,521.7 147.0,521.9 148.0,522.1 149.0,521.9 150.0,522.3 151.0,522.6 152.0,523.2 153.0,523.8 154.0,524.0 155.0,525.0 156.0,525.4 157.0,526.0 158.0,526.7 159.0,527.5 160.0,527.8 161.0,528.3 162.0,528.9 163.0,529.8 164.0,530.3 165.0,531.2 166.0,531.8 167.0,532.5 168.0,533.4 169.0,534.0 170.0,534.7 171.0,535.4 172.0,536.2 173.0,537.1 174.0,537.9 175.0,538.6 176.0,539.3 177.0,539.9 178.0,540.7 179.0,541.5 180.0,542.4 181.0,543.0 182.0,543.8 183.0,544.6 184.0,545.2 185.0,546.0 186.0,546.7 187.0,547.5 188.0,548.3 189.0,549.1 190.0,549.8 191.0,550.9 192.0,551.7 193.0,552.6 194.0,553.2 195.0,554.1 196.0,554.9 197.0,555.5 198.0,556.4 199.0,556.8 200.0,557.6 201.0,557.9 202.0,558.7 203.0,559.0 204.0,559.6 205.0,560.1 206.0,560.7 207.0,561.1 208.0,561.7 209.0,562.1 210.0,562.8 211.0,563.3 212.0,564.2 213.0,564.9 214.0,565.6 215.0,566.5 216.0,567.1 217.0,568.0 218.0,568.6 219.0,568.9 220.0,569.3 221.0,569.6 222.0,569.8 223.0,570.0 224.0,570.0 225.0,570.1 226.0,570.3 227.0,570.4 228.0,570.6 229.0,570.8 230.0,570.9 231.0,571.0 232.0,571.2 233.0,571.5 234.0,571.5 235.0,571.6 236.0,571.9 237.0,571.9 238.0,572.3 239.0,572.6 240.0,572.6 241.0,573.0 242.0,572.9 243.0,573.4 244.0,573.4 245.0,573.8 246.0,573.9 247.0,574.3 248.0,574.5 249.0,574.8 250.0,575.3 251.0,575.6 252.0,575.6 253.0,575.8 254.0,575.7 255.0,575.9 256.0,575.7 257.0,575.8 258.0,575.9 259.0,575.8 260.0,575.9 261.0,575.9 262.0,575.9 263.0,575.9 264.0,575.7 265.0,575.9 266.0,575.8 267.0,575.9 268.0,575.9 269.0,575.9 270.0,575.9 271.0,575.7 272.0,575.9 273.0,575.5 274.0,575.4 275.0,574.9 276.0,574.6 277.0,574.1 278.0,574.0 279.0,573.5 280.0,573.3 281.0,573.1 282.0,572.7 283.0,572.6 284.0,572.3 285.0,572.1 286.0,571.9 287.0,571.7 288.0,571.4 289.0,571.1 290.0,570.9 291.0,570.9 292.0,570.8 293.0,570.5 294.0,570.4 295.0,570.3 296.0,570.2 297.0,569.9 298.0,569.9 299.0,569.4 300.0,568.9 301.0,568.3 302.0,568.1 303.0,567.7 304.0,567.4 305.0,567.2 306.0,567.1 307.0,566.6 308.0,566.3 309.0,566.2 310.0,565.7 311.0,565.5 312.0,565.2 313.0,564.9 314.0,564.9 315.0,564.4 316.0,564.3 317.0,564.2 318.0,564.2 319.0,564.2 320.0,564.0 321.0,564.0 322.0,564.0 323.0,564.1 324.0,564.2 325.0,564.2 326.0,564.3 327.0,564.5 328.0,565.0 329.0,565.7 330.0,566.7 331.0,567.4 332.0,568.2 333.0,569.0 334.0,569.9 335.0,570.8 336.0,571.9 337.0,572.9 338.0,574.2 339.0,575.4 340.0,576.7 341.0,578.3 342.0,579.1 343.0,578.0 344.0,576.3 345.0,575.3 346.0,574.3 347.0,573.7 348.0,573.1 349.0,573.0 350.0,573.0 351.0,572.8 352.0,572.8 353.0,572.6 354.0,572.7 355.0,572.7 356.0,572.7 357.0,572.9 358.0,573.1 359.0,573.0 360.0,573.1 361.0,573.3 362.0,572.0 363.0,569.1 364.0,567.9 365.0,567.7 366.0,567.2 367.0,567.0 368.0,566.7 369.0,566.6 370.0,566.4 371.0,565.9 372.0,565.7 373.0,565.3 374.0,564.6 375.0,564.4 376.0,563.8 377.0,563.4 378.0,563.0 379.0,562.3 380.0,561.9 381.0,561.2 382.0,560.8 383.0,560.4 384.0,560.0 385.0,559.5 386.0,559.2 387.0,558.6 388.0,558.4 389.0,558.4 390.0,558.2 391.0,558.1 392.0,558.2 393.0,558.3 394.0,558.0 395.0,558.2 396.0,557.8 397.0,557.8 398.0,557.3 399.0,556.7 400.0,556.2 401.0,555.8 402.0,555.4 403.0,555.0 404.0,554.6 405.0,554.1 406.0,553.7 407.0,553.3 408.0,553.1 409.0,552.5 410.0,552.2 411.0,551.6 412.0,551.4 413.0,550.9 414.0,550.6 415.0,550.3 416.0,549.9 417.0,549.8 418.0,549.6 419.0,549.3 420.0,548.9 421.0,548.6 422.0,548.4 423.0,547.7 424.0,547.7 425.0,547.1 426.0,546.9 427.0,546.2 428.0,545.9 429.0,545.6 430.0,545.3 431.0,545.1 432.0,544.6 433.0,544.2 434.0,544.1 435.0,543.7 436.0,543.6 437.0,543.2 438.0,542.9 439.0,542.8 440.0,542.5 441.0,542.5 442.0,542.0 443.0,541.9 444.0,541.7 445.0,541.4 446.0,541.0 447.0,540.9 448.0,540.6 449.0,540.3 450.0,540.3 451.0,539.9 452.0,539.6 453.0,539.4 454.0,539.4 455.0,539.1 456.0,538.9 457.0,538.7 458.0,538.3 459.0,538.1 460.0,537.9 461.0,537.6 462.0,537.5 463.0,537.2 464.0,536.9 465.0,536.7 466.0,536.3 467.0,536.2 468.0,536.0 469.0,535.8 470.0,535.8 471.0,535.6 472.0,535.2 473.0,535.2 474.0,535.0 475.0,535.0 476.0,535.0 477.0,534.7 478.0,534.6 479.0,534.5 480.0,534.5 481.0,534.4 482.0,534.1 483.0,534.0 484.0,533.9 485.0,533.9 486.0,533.5 487.0,533.2 488.0,533.0 489.0,532.6 490.0,532.6 491.0,532.3 492.0,532.3 493.0,532.6 494.0,532.7 495.0,532.7 496.0,532.7 497.0,532.9 498.0,533.3 499.0,533.3 500.0,533.3 501.0,533.4 502.0,533.6 503.0,533.7 504.0,533.4 505.0,533.1 506.0,532.9 507.0,532.4 508.0,532.0 509.0,531.8 510.0,531.5 511.0,531.3 512.0,530.9 513.0,530.7 514.0,530.4 515.0,530.2 516.0,530.0 517.0,529.5 518.0,529.5 519.0,529.3 520.0,528.9 521.0,528.5 522.0,528.4 523.0,528.3 524.0,527.9 525.0,527.7 526.0,527.5 527.0,527.5 528.0,527.2 529.0,527.0 530.0,526.7 531.0,526.5 532.0,526.2 533.0,526.0 534.0,525.6 535.0,525.6 536.0,525.1 537.0,524.8 538.0,524.2 539.0,523.7 540.0,523.2 541.0,523.0 542.0,523.2 543.0,523.9 544.0,524.9 545.0,525.7 546.0,526.3 547.0,527.2 548.0,527.9 549.0,528.4 550.0,529.0 551.0,529.4 552.0,529.8 553.0,529.6 554.0,529.6 555.0,529.6 556.0,529.2 557.0,529.2 558.0,528.9 559.0,528.6 560.0,528.5 561.0,528.2 562.0,528.0 563.0,527.5 564.0,527.1 565.0,526.7 566.0,526.3 567.0,526.0 568.0,525.6 569.0,525.0 570.0,524.5 571.0,524.1 572.0,523.5 573.0,523.1 574.0,523.1 575.0,522.9 576.0,523.1 577.0,523.3 578.0,523.2 579.0,523.5 580.0,523.6 581.0,523.8 582.0,523.8 583.0,523.6 584.0,523.6 585.0,523.4 586.0,523.0 587.0,522.6 588.0,522.6 589.0,522.4 590.0,522.3 591.0,522.5 592.0,523.1 593.0,523.5 594.0,524.0 595.0,524.7 596.0,525.1 597.0,525.3 598.0,525.3 599.0,525.5 600.0,525.6 601.0,525.4 602.0,525.7 603.0,525.8 604.0,525.8 605.0,525.8 606.0,526.0 607.0,525.8 608.0,526.1 609.0,526.0 610.0,526.0 611.0,526.0 612.0,526.0 613.0,525.9 614.0,525.9 615.0,525.9 616.0,525.9 617.0,526.1 618.0,526.1 619.0,526.1 620.0,525.9 621.0,526.0 622.0,526.1 623.0,526.0 624.0,526.0 625.0,526.1 626.0,525.9 627.0,525.9 628.0,526.0 629.0,526.1 630.0,526.2 631.0,526.0 632.0,526.2 633.0,526.0 634.0,526.2 635.0,526.1 636.0,526.1 637.0,526.4 638.0,526.2 639.0,526.4 640.0,526.4 641.0,526.7 642.0,526.7 643.0,526.7 644.0,527.2 645.0,527.6 646.0,528.2 647.0,529.0 648.0,530.0 649.0,530.7 650.0,531.0 651.0,531.7 652.0,532.2 653.0,532.9 654.0,533.3 655.0,534.2 656.0,534.8 657.0,535.5 658.0,536.1 659.0,536.9 660.0,537.8 661.0,538.6 662.0,540.1 663.0,541.8 664.0,543.9 665.0,546.3 666.0,550.0 667.0,558.6 668.0,564.9 669.0,570.4 670.0,575.3 671.0,580.3 672.0,585.1 673.0,587.9 674.0,589.9 675.0,591.7 676.0,592.9 677.0,593.5 678.0,592.9 679.0,591.6 680.0,589.8 681.0,588.6 682.0,588.2 683.0,589.0 684.0,590.6 685.0,592.6 686.0,595.2 687.0,599.4 688.0,604.0 689.0,608.1 690.0,612.2 691.0,615.5 692.0,618.8 693.0,621.8 694.0,622.8 695.0,623.7 696.0,624.1 697.0,624.5 698.0,613.0 699.0,611.6 700.0,610.8 701.0,610.5 702.0,610.0 703.0,609.8 704.0,609.7 705.0,609.5 706.0,609.2 707.0,607.8 708.0,603.7 709.0,599.1 710.0,593.6 711.0,587.9 712.0,583.2 713.0,579.6 714.0,576.6 715.0,574.2 716.0,572.2 717.0,570.7 718.0,569.9 719.0,570.1 720.0,570.9 721.0,571.8 722.0,573.1 723.0,575.9 724.0,578.6 725.0,578.5 726.0,576.5 727.0,574.4 728.0,574.9 729.0,576.5 730.0,577.2 731.0,577.6 732.0,577.8 733.0,578.2 734.0,577.7 735.0,575.9 736.0,573.9 737.0,572.8 738.0,572.1 739.0,571.7 740.0,573.2 741.0,576.3 742.0,580.5 743.0,587.9 744.0,594.6 745.0,594.8 746.0,592.4 747.0,590.1 748.0,588.2 749.0,586.8 750.0,586.4 751.0,589.1 752.0,594.3 753.0,598.4 754.0,599.0 755.0,597.8 756.0,596.0 757.0,594.6 758.0,593.3 759.0,591.8 760.0,590.4 761.0,589.1 762.0,588.0 763.0,586.7 764.0,585.9 765.0,585.1 766.0,584.1 767.0,582.7 768.0,579.7 769.0,575.8 770.0,573.4 771.0,572.2 772.0,571.4 773.0,571.0 774.0,570.5 775.0,570.0 776.0,569.7 777.0,569.5 778.0,569.4 779.0,569.3 780.0,569.2 781.0,568.8 782.0,568.8 783.0,568.3 784.0,567.9 785.0,567.7 786.0,567.2 787.0,566.9 788.0,566.2 789.0,565.8 790.0,565.4 791.0,565.5 792.0,565.6 793.0,566.3 794.0,566.7 795.0,567.7 796.0,569.2 797.0,571.5 798.0,573.9 799.0,577.3 800.0,581.9 801.0,586.7 802.0,593.8 803.0,600.4 804.0,601.5 805.0,599.8 806.0,597.8 807.0,595.7 808.0,593.2 809.0,591.7 810.0,592.1 811.0,593.5 812.0,595.6 813.0,597.9 814.0,601.6 815.0,606.2 816.0,611.6 817.0,618.3 818.0,624.2 819.0,627.2 820.0,629.4 821.0,631.5 822.0,634.3 823.0,638.6 824.0,643.6 825.0,646.7 826.0,647.1 827.0,647.2 828.0,647.0 829.0,645.6 830.0,642.4 831.0,640.9 832.0,641.8 833.0,644.2 834.0,646.7 835.0,649.4 836.0,653.0 837.0,656.2 838.0,657.9 839.0,657.8 840.0,656.5 841.0,655.2 842.0,653.0 843.0,648.4 844.0,642.0 845.0,636.3 846.0,630.7 847.0,625.2 848.0,620.5 849.0,616.0 850.0,613.3 851.0,611.6 852.0,610.2 853.0,609.4 854.0,608.5 855.0,607.6 856.0,607.2 857.0,606.7 858.0,606.5 859.0,606.4 860.0,605.1 861.0,600.5 862.0,596.8 863.0,594.5 864.0,592.7 865.0,591.7 866.0,592.5 867.0,594.1 868.0,595.8 869.0,597.2 870.0,598.4 871.0,597.8 872.0,596.6 873.0,594.9 874.0,593.2 875.0,591.8 876.0,590.1 877.0,588.7 878.0,586.9 879.0,585.8 880.0,584.5 881.0,583.5 882.0,582.8 883.0,582.2 884.0,582.2 885.0,582.5 886.0,583.3 887.0,584.2 888.0,585.6 889.0,588.6 890.0,591.6 891.0,592.9 892.0,594.0 893.0,594.7 894.0,595.8 895.0,596.5 896.0,597.5 897.0,598.4 898.0,599.6 899.0,600.7 900.0,602.3 901.0,603.9 902.0,605.8 903.0,608.5 904.0,611.1 905.0,611.6 906.0,611.7 907.0,611.8 908.0,611.8 909.0,611.9 910.0,612.4 911.0,612.9 912.0,613.4 913.0,613.8 914.0,614.6 915.0,615.3 916.0,616.3 917.0,617.4 918.0,618.4 919.0,619.5 920.0,620.7 921.0,621.8 922.0,622.7 923.0,623.5 924.0,624.0 925.0,624.3 926.0,624.5 927.0,624.8 928.0,625.5 929.0,626.6 930.0,628.0 931.0,630.2 932.0,632.8 932.1,633.2" stroke="#000" stroke-width="4.8" />
<rect x="187" y="70.9" width="113.3" height="535.9" class="dot"/>
<rect x="334" y="91.6" width="29.7" height="504.2" class="dot"/>
<rect x="663.5" y="62.8" width="55.5" height="578.2" class="dot"/>
<rect x="739.8" y="90" width="28.5" height="535.2" class="dot"/>
<rect x="817.6" y="104.4" width="31.7" height="560.8" class="dot"/>
<line x1="803.5" y1="114.8" x2="811.5" y2="98" stroke="#000" stroke-width="2.5"/>
<polygon points="819.9,84.5 807.2,96.5 814.8,101.5" fill="#000"/>
<line x1="872.3" y1="111.5" x2="872.3" y2="132" stroke="#000" stroke-width="2.5"/>
<polygon points="872.3,147.3 867.8,129.8 876.8,129.8" fill="#000"/>
<rect x="60.6" y="10.9" width="874.2" height="708.8" fill="none" stroke="#000" stroke-width="4.8" stroke-linejoin="round"/>
<line x1="60.6" y1="720" x2="60.6" y2="733" stroke="#000" stroke-width="4.6" stroke-linecap="round"/>
<line x1="191.0" y1="720" x2="191.0" y2="733" stroke="#000" stroke-width="4.6" stroke-linecap="round"/>
<line x1="321.5" y1="720" x2="321.5" y2="733" stroke="#000" stroke-width="4.6" stroke-linecap="round"/>
<line x1="451.9" y1="720" x2="451.9" y2="733" stroke="#000" stroke-width="4.6" stroke-linecap="round"/>
<line x1="582.3" y1="720" x2="582.3" y2="733" stroke="#000" stroke-width="4.6" stroke-linecap="round"/>
<line x1="712.8" y1="720" x2="712.8" y2="733" stroke="#000" stroke-width="4.6" stroke-linecap="round"/>
<line x1="843.2" y1="720" x2="843.2" y2="733" stroke="#000" stroke-width="4.6" stroke-linecap="round"/>
<text id="T3507_3088" x="176.40" y="45.20" font-size="24.5" fill="#000" color="#000" text-anchor="start">3507-3088</text>
<text id="T2939_2894" x="305.40" y="62.80" font-size="24.5" fill="#000" color="#000" text-anchor="start">2939-2894</text>
<text id="T1379" x="725.30" y="59.60" font-size="24.5" fill="#000" color="#000" text-anchor="start"><tspan class="h1">1</tspan>379</text>
<text id="T1167" x="818.30" y="66.80" font-size="24.5" fill="#000" color="#000" text-anchor="start"><tspan class="h1">1</tspan><tspan class="h1">1</tspan>67</text>
<text id="T940" x="862.50" y="175.50" font-size="24.5" fill="#000" color="#000" text-anchor="start">940</text>
<text id="T1674_1491" x="634.90" y="673.10" font-size="24.5" fill="#000" color="#000" text-anchor="start"><tspan class="h1">1</tspan>674-<tspan class="h1">1</tspan>49<tspan class="h1">1</tspan></text>
<text id="T1087_991" x="788.10" y="698.10" font-size="24.5" fill="#000" color="#000" text-anchor="start"><tspan class="h1">1</tspan>087-99<tspan class="h1">1</tspan></text>
<text id="TCGP" class="nb" x="498.40" y="98.70" font-size="33" fill="#008080" color="#008080" text-anchor="start">CGP</text>
<text id="TCGP0_05" class="nb" x="473.80" y="272.30" font-size="33" fill="#0000ff" color="#0000ff" text-anchor="start">CGP0.05</text>
<text id="TCGP0_07" class="nb" x="473.90" y="420.70" font-size="33" fill="#ff0000" color="#ff0000" text-anchor="start">CGP0.07</text>
<text id="TCGP0_1" class="nb" x="474.60" y="586.20" font-size="33" fill="#000" color="#000" text-anchor="start">CGP0.<tspan class="h1">1</tspan></text>
<text id="Tt4000" x="60.20" y="767.00" font-size="33.5" fill="#000" color="#000" text-anchor="middle">4000</text>
<text id="Tt3500" x="191.03" y="767.00" font-size="33.5" fill="#000" color="#000" text-anchor="middle">3500</text>
<text id="Tt3000" x="321.47" y="767.00" font-size="33.5" fill="#000" color="#000" text-anchor="middle">3000</text>
<text id="Tt2500" x="451.90" y="767.00" font-size="33.5" fill="#000" color="#000" text-anchor="middle">2500</text>
<text id="Tt2000" x="582.33" y="767.00" font-size="33.5" fill="#000" color="#000" text-anchor="middle">2000</text>
<text id="Tt1500" x="712.77" y="767.00" font-size="33.5" fill="#000" color="#000" text-anchor="middle"><tspan class="h1">1</tspan>500</text>
<text id="Tt1000" x="842.60" y="766.60" font-size="33.5" fill="#000" color="#000" text-anchor="middle"><tspan class="h1">1</tspan>000</text>
<text id="xtitle" class="nb" x="318.70" y="814.40" font-size="39">Wavenumber (cm<tspan font-size="22" dx="0.4" dy="-21.7">-<tspan class="h1">1</tspan></tspan><tspan dx="0.6" dy="21.7">)</tspan></text>
<text transform="translate(39.70,556.10) rotate(-90)" class="nb" x="0" y="0" font-size="40">Transmittance (a.u)</text>
<path d="M527,0L527,963L162,820L162,1050L560,1409L816,1409L816,0Z" transform="translate(725.30,59.60) scale(0.01196,-0.01196)" fill="#000" stroke="#000" stroke-width="41.8"/>
<path d="M527,0L527,963L162,820L162,1050L560,1409L816,1409L816,0Z" transform="translate(818.30,66.80) scale(0.01196,-0.01196)" fill="#000" stroke="#000" stroke-width="41.8"/>
<path d="M527,0L527,963L162,820L162,1050L560,1409L816,1409L816,0Z" transform="translate(831.94,66.80) scale(0.01196,-0.01196)" fill="#000" stroke="#000" stroke-width="41.8"/>
<path d="M527,0L527,963L162,820L162,1050L560,1409L816,1409L816,0Z" transform="translate(634.90,673.10) scale(0.01196,-0.01196)" fill="#000" stroke="#000" stroke-width="41.8"/>
<path d="M527,0L527,963L162,820L162,1050L560,1409L816,1409L816,0Z" transform="translate(697.59,673.10) scale(0.01196,-0.01196)" fill="#000" stroke="#000" stroke-width="41.8"/>
<path d="M527,0L527,963L162,820L162,1050L560,1409L816,1409L816,0Z" transform="translate(738.49,673.10) scale(0.01196,-0.01196)" fill="#000" stroke="#000" stroke-width="41.8"/>
<path d="M527,0L527,963L162,820L162,1050L560,1409L816,1409L816,0Z" transform="translate(788.10,698.10) scale(0.01196,-0.01196)" fill="#000" stroke="#000" stroke-width="41.8"/>
<path d="M527,0L527,963L162,820L162,1050L560,1409L816,1409L816,0Z" transform="translate(878.04,698.10) scale(0.01196,-0.01196)" fill="#000" stroke="#000" stroke-width="41.8"/>
<path d="M527,0L527,963L162,820L162,1050L560,1409L816,1409L816,0Z" transform="translate(573.65,586.20) scale(0.01611,-0.01611)" fill="#000" stroke="#000" stroke-width="31.0"/>
<path d="M527,0L527,963L162,820L162,1050L560,1409L816,1409L816,0Z" transform="translate(675.50,767.00) scale(0.01636,-0.01636)" fill="#000" stroke="#000" stroke-width="30.6"/>
<path d="M527,0L527,963L162,820L162,1050L560,1409L816,1409L816,0Z" transform="translate(805.33,766.60) scale(0.01636,-0.01636)" fill="#000" stroke="#000" stroke-width="30.6"/>
<path d="M527,0L527,963L162,820L162,1050L560,1409L816,1409L816,0Z" transform="translate(651.52,792.70) scale(0.01074,-0.01074)" fill="#000" stroke="#000" stroke-width="46.5"/>
</svg>
</body></html>
